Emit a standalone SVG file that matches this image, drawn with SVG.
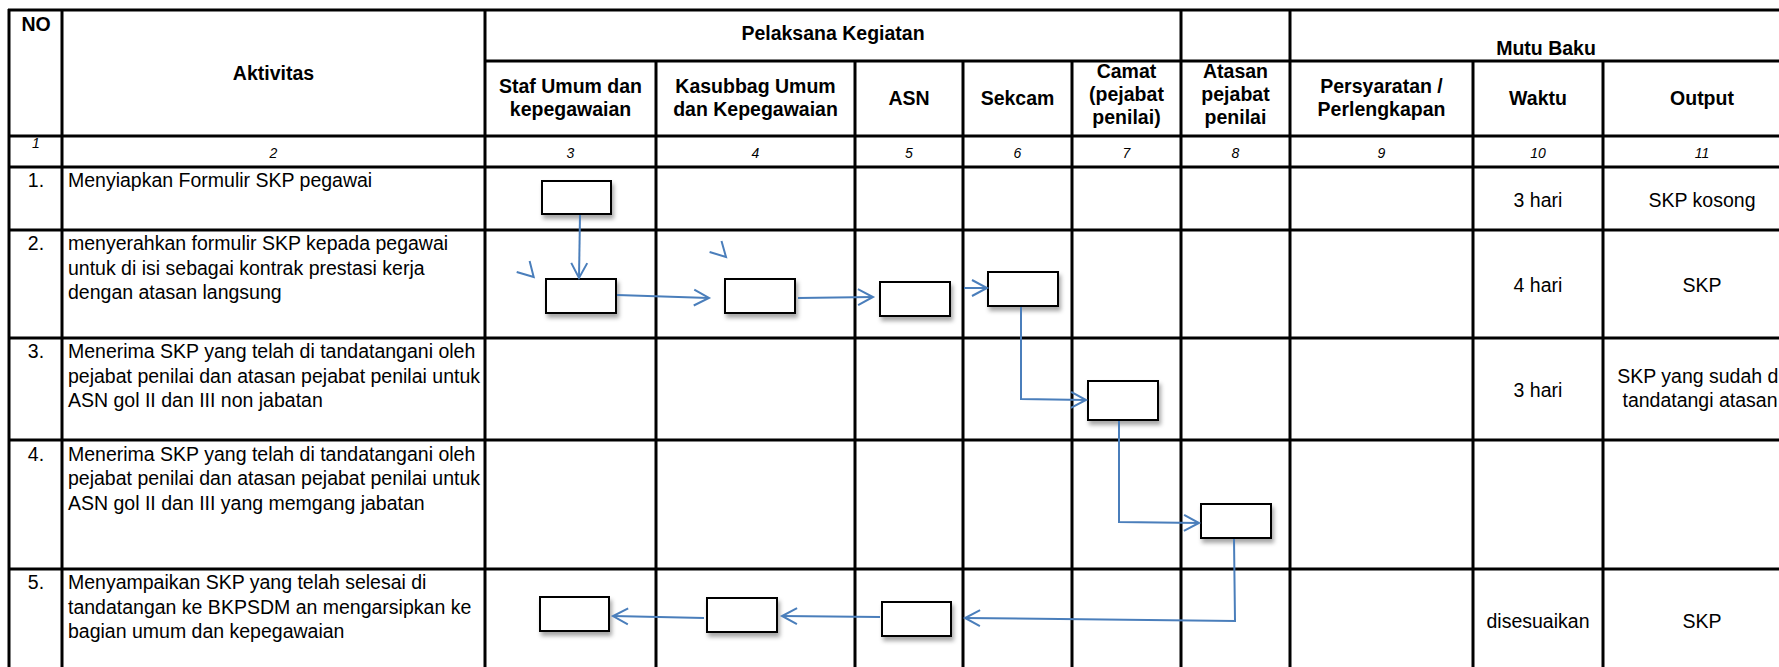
<svg xmlns="http://www.w3.org/2000/svg" width="1779" height="667" viewBox="0 0 1779 667">
<defs>
<style>
.grid line{stroke:#000;stroke-width:3}
text{font-family:"Liberation Sans",Arial,Helvetica,sans-serif;font-size:19.5px;fill:#000}
.h{font-weight:bold;text-anchor:middle}
.c{text-anchor:middle}
.n{font-style:italic;font-size:14px;text-anchor:middle}
.box{fill:#fff;stroke:#000;stroke-width:2;filter:url(#sh)}
.conn{fill:none;stroke:#4a7ebb;stroke-width:2;stroke-linejoin:miter}
.arr{marker-end:url(#ah)}
</style>
<filter id="sh" x="-20%" y="-20%" width="150%" height="160%">
<feDropShadow dx="2" dy="4" stdDeviation="2" flood-color="#000" flood-opacity="0.35"/>
</filter>
<marker id="ah" markerUnits="userSpaceOnUse" markerWidth="20" markerHeight="20" refX="16" refY="9" orient="auto" overflow="visible">
<path d="M1,1 L16,9 L1,17" fill="none" stroke="#4a7ebb" stroke-width="2"/>
</marker>
</defs>
<rect width="1779" height="667" fill="#fff"/>

<g id="table" class="grid">
<line x1="8" y1="10" x2="1801" y2="10"/>
<line x1="485" y1="61" x2="1801" y2="61"/>
<line x1="8" y1="136" x2="1801" y2="136"/>
<line x1="8" y1="167" x2="1801" y2="167"/>
<line x1="8" y1="230" x2="1801" y2="230"/>
<line x1="8" y1="338" x2="1801" y2="338"/>
<line x1="8" y1="440" x2="1801" y2="440"/>
<line x1="8" y1="569" x2="1801" y2="569"/>
<line x1="9" y1="9" x2="9" y2="673"/>
<line x1="62" y1="9" x2="62" y2="673"/>
<line x1="485" y1="9" x2="485" y2="673"/>
<line x1="1181" y1="9" x2="1181" y2="673"/>
<line x1="1290" y1="9" x2="1290" y2="673"/>
<line x1="656" y1="61" x2="656" y2="673"/>
<line x1="855" y1="61" x2="855" y2="673"/>
<line x1="963" y1="61" x2="963" y2="673"/>
<line x1="1072" y1="61" x2="1072" y2="673"/>
<line x1="1473" y1="61" x2="1473" y2="673"/>
<line x1="1603" y1="61" x2="1603" y2="673"/>
</g>

<g id="headers">
<text class="h" x="36" y="31">NO</text>
<text class="h" x="273.5" y="80">Aktivitas</text>
<text class="h" x="833" y="40">Pelaksana Kegiatan</text>
<text class="h" x="1546" y="55">Mutu Baku</text>
<text class="h" x="570.5" y="93">Staf Umum dan</text>
<text class="h" x="570.5" y="116">kepegawaian</text>
<text class="h" x="755.5" y="93">Kasubbag Umum</text>
<text class="h" x="755.5" y="116">dan Kepegawaian</text>
<text class="h" x="909" y="105">ASN</text>
<text class="h" x="1017.5" y="105">Sekcam</text>
<text class="h" x="1126.5" y="78">Camat</text>
<text class="h" x="1126.5" y="101">(pejabat</text>
<text class="h" x="1126.5" y="124">penilai)</text>
<text class="h" x="1235.5" y="78">Atasan</text>
<text class="h" x="1235.5" y="101">pejabat</text>
<text class="h" x="1235.5" y="124">penilai</text>
<text class="h" x="1381.5" y="93">Persyaratan /</text>
<text class="h" x="1381.5" y="116">Perlengkapan</text>
<text class="h" x="1538" y="105">Waktu</text>
<text class="h" x="1702" y="105">Output</text>
</g>

<g id="colnumbers">
<text class="n" x="36" y="148">1</text>
<text class="n" x="273.5" y="158">2</text>
<text class="n" x="570.5" y="158">3</text>
<text class="n" x="755.5" y="158">4</text>
<text class="n" x="909" y="158">5</text>
<text class="n" x="1017.5" y="158">6</text>
<text class="n" x="1126.5" y="158">7</text>
<text class="n" x="1235.5" y="158">8</text>
<text class="n" x="1381.5" y="158">9</text>
<text class="n" x="1538" y="158">10</text>
<text class="n" x="1702" y="158">11</text>
</g>

<g id="row1">
<text class="c" x="36" y="187">1.</text>
<text x="68" y="187">Menyiapkan Formulir SKP pegawai</text>
<text class="c" x="1538" y="206.5">3 hari</text>
<text class="c" x="1702" y="206.5">SKP kosong</text>
</g>
<g id="row2">
<text class="c" x="36" y="250">2.</text>
<text x="68" y="250">menyerahkan formulir SKP kepada pegawai</text>
<text x="68" y="274.5">untuk di isi sebagai kontrak prestasi kerja</text>
<text x="68" y="299">dengan atasan langsung</text>
<text class="c" x="1538" y="291.5">4 hari</text>
<text class="c" x="1702" y="291.5">SKP</text>
</g>
<g id="row3">
<text class="c" x="36" y="358">3.</text>
<text x="68" y="358">Menerima SKP yang telah di tandatangani oleh</text>
<text x="68" y="382.5">pejabat penilai dan atasan pejabat penilai untuk</text>
<text x="68" y="407">ASN gol II dan III non jabatan</text>
<text class="c" x="1538" y="397">3 hari</text>
<text class="c" x="1700" y="383">SKP yang sudah di</text>
<text class="c" x="1700" y="407">tandatangi atasan</text>
</g>
<g id="row4">
<text class="c" x="36" y="460.5">4.</text>
<text x="68" y="460.5">Menerima SKP yang telah di tandatangani oleh</text>
<text x="68" y="485">pejabat penilai dan atasan pejabat penilai untuk</text>
<text x="68" y="509.5">ASN gol II dan III yang memgang jabatan</text>
</g>
<g id="row5">
<text class="c" x="36" y="589">5.</text>
<text x="68" y="589">Menyampaikan SKP yang telah selesai di</text>
<text x="68" y="613.5">tandatangan ke BKPSDM an mengarsipkan ke</text>
<text x="68" y="638">bagian umum dan kepegawaian</text>
<text class="c" x="1538" y="628">disesuaikan</text>
<text class="c" x="1702" y="628">SKP</text>
</g>

<g id="node-b1"><rect class="box" x="542" y="181" width="69" height="33"/></g>
<g id="node-b2"><rect class="box" x="546" y="279" width="70" height="34"/></g>
<g id="node-b3"><rect class="box" x="725" y="279" width="70" height="34"/></g>
<g id="node-b4"><rect class="box" x="880" y="282" width="70" height="34"/></g>
<g id="node-b5"><rect class="box" x="988" y="272" width="70" height="34"/></g>
<g id="node-b6"><rect class="box" x="1088" y="381" width="70" height="39"/></g>
<g id="node-b7"><rect class="box" x="1201" y="504" width="70" height="34"/></g>
<g id="node-b8"><rect class="box" x="540" y="597" width="69" height="34"/></g>
<g id="node-b9"><rect class="box" x="707" y="598" width="70" height="34"/></g>
<g id="node-b10"><rect class="box" x="882" y="602" width="69" height="34"/></g>

<g id="connectors">
<path class="conn arr" d="M580,215 L579,278"/>
<path class="conn arr" d="M617,295 L709,298"/>
<path class="conn arr" d="M798,298 L873,297"/>
<path class="conn arr" d="M964,288 L987,288"/>
<path class="conn arr" d="M1021,307 L1021,399 L1086,400"/>
<path class="conn arr" d="M1119,421 L1119,522 L1199,523"/>
<path class="conn arr" d="M1234,539 L1235,621 L965,618"/>
<path class="conn arr" d="M880,617 L782,616"/>
<path class="conn arr" d="M704,618 L613,616"/>
<polyline class="conn" points="516.7,272 533.7,277 529.6,261"/>
<polyline class="conn" points="709.6,252 726,257 721.5,241"/>
</g>
</svg>
